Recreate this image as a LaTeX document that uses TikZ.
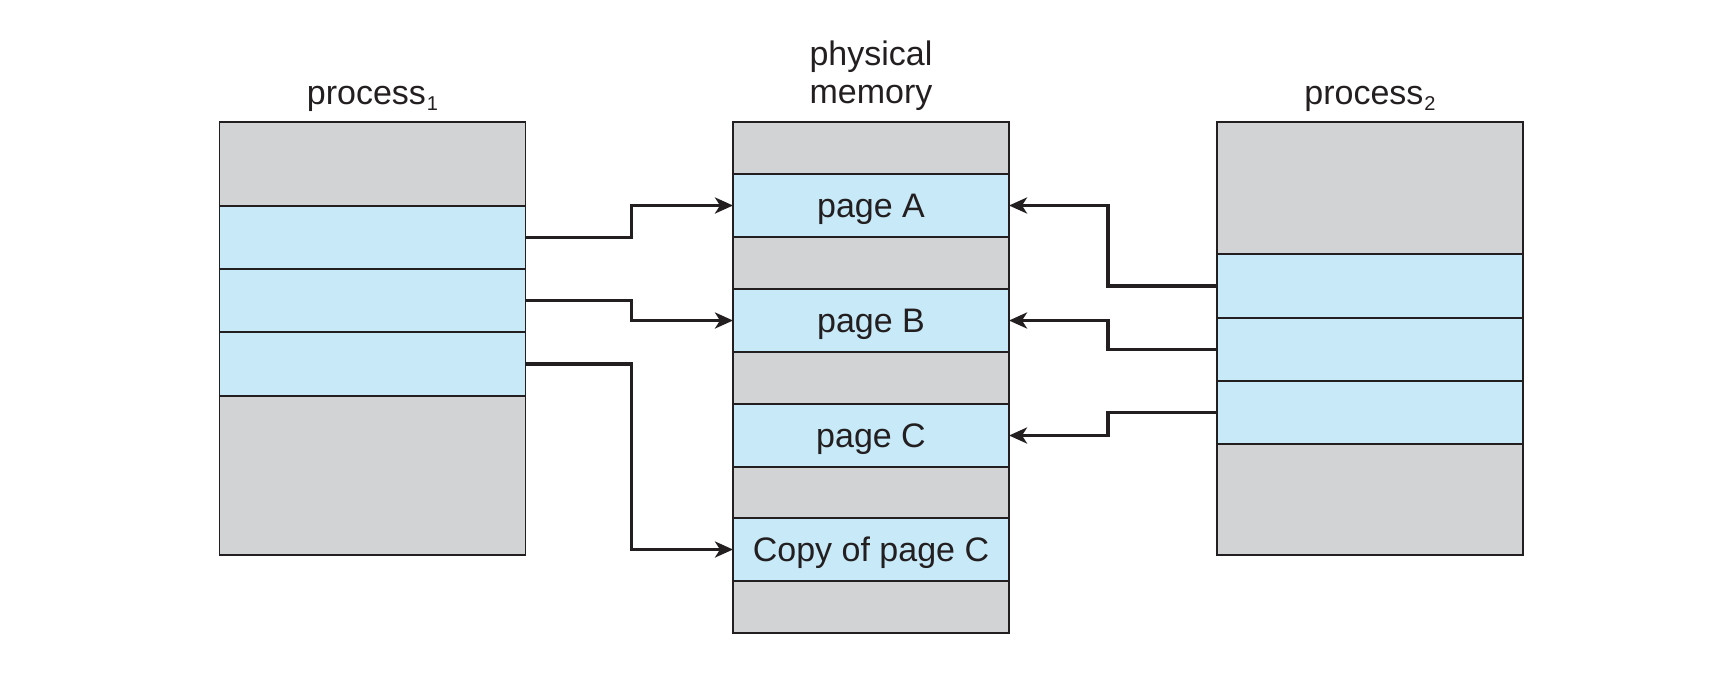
\documentclass[tikz,border=0pt]{standalone}
\usepackage{fontspec}
\setmainfont{Liberation Sans}
\usetikzlibrary{arrows.meta}
\definecolor{bandgray}{HTML}{D1D3D4}
\definecolor{bandblue}{HTML}{C7E9F8}
\definecolor{ink}{HTML}{231F20}
\newcommand{\subdig}[1]{\kern1pt\raisebox{-6pt}{\fontsize{20}{20}\selectfont #1}}
\begin{document}
\begin{tikzpicture}[x=1pt,y=-1pt,
  bandbase/.style={draw=ink, line width=1.6pt, inner sep=0pt, outer sep=0pt,
    anchor=center, text=ink, font=\fontsize{34}{40}\selectfont, text depth=0pt},
  freeband/.style={bandbase, fill=bandgray},
  usedband/.style={bandbase, fill=bandblue},
  lab/.style={anchor=base, inner sep=0pt, text=ink, font=\fontsize{34}{40}\selectfont},
  arr/.style={draw=ink, line width=3.2pt, -{Stealth[length=18pt,width=16pt,inset=5pt]}}
]
\useasboundingbox (0,0) rectangle (1736,678);

% process 1
\node[freeband, minimum width=306, minimum height=84]  (p1top) at (372.5,164) {};
\node[usedband, minimum width=306, minimum height=63]  (p1a)   at (372.5,237.5) {};
\node[usedband, minimum width=306, minimum height=63]  (p1b)   at (372.5,300.5) {};
\node[usedband, minimum width=306, minimum height=64]  (p1c)   at (372.5,364) {};
\node[freeband, minimum width=306, minimum height=159] (p1bot) at (372.5,475.5) {};

% physical memory
\node[freeband, minimum width=276, minimum height=52] (m1) at (871,148) {};
\node[usedband, minimum width=276, minimum height=63] (pA) at (871,205.5) {page A};
\node[freeband, minimum width=276, minimum height=52] (m2) at (871,263) {};
\node[usedband, minimum width=276, minimum height=63] (pB) at (871,320.5) {page B};
\node[freeband, minimum width=276, minimum height=52] (m3) at (871,378) {};
\node[usedband, minimum width=276, minimum height=63] (pC) at (871,435.5) {page C};
\node[freeband, minimum width=276, minimum height=51] (m4) at (871,492.5) {};
\node[usedband, minimum width=276, minimum height=63] (pD) at (871,549.5) {Copy of page C};
\node[freeband, minimum width=276, minimum height=52] (m5) at (871,607) {};

% process 2
\node[freeband, minimum width=306, minimum height=132] (p2top) at (1370,188) {};
\node[usedband, minimum width=306, minimum height=64]  (p2a)   at (1370,286) {};
\node[usedband, minimum width=306, minimum height=63]  (p2b)   at (1370,349.5) {};
\node[usedband, minimum width=306, minimum height=63]  (p2c)   at (1370,412.5) {};
\node[freeband, minimum width=306, minimum height=111] (p2bot) at (1370,499.5) {};

% labels
\node[lab] (l1) at (372.5,104) {process\subdig{1}};
\node[lab] (l2a) at (871,65) {physical};
\node[lab] (l2b) at (871,103) {memory};
\node[lab] (l3) at (1370,104) {process\subdig{2}};

% bend columns
\coordinate (bl) at (631.5,0);
\coordinate (br) at (1108,0);

\draw[arr] (p1a.east) -- (p1a.east -| bl) |- (pA.west);
\draw[arr] (p1b.east) -- (p1b.east -| bl) |- (pB.west);
\draw[arr] (p1c.east) -- (p1c.east -| bl) |- (pD.west);

\draw[arr] (p2a.west) -- (p2a.west -| br) |- (pA.east);
\draw[arr] (p2b.west) -- (p2b.west -| br) |- (pB.east);
\draw[arr] (p2c.west) -- (p2c.west -| br) |- (pC.east);
\end{tikzpicture}
\end{document}
